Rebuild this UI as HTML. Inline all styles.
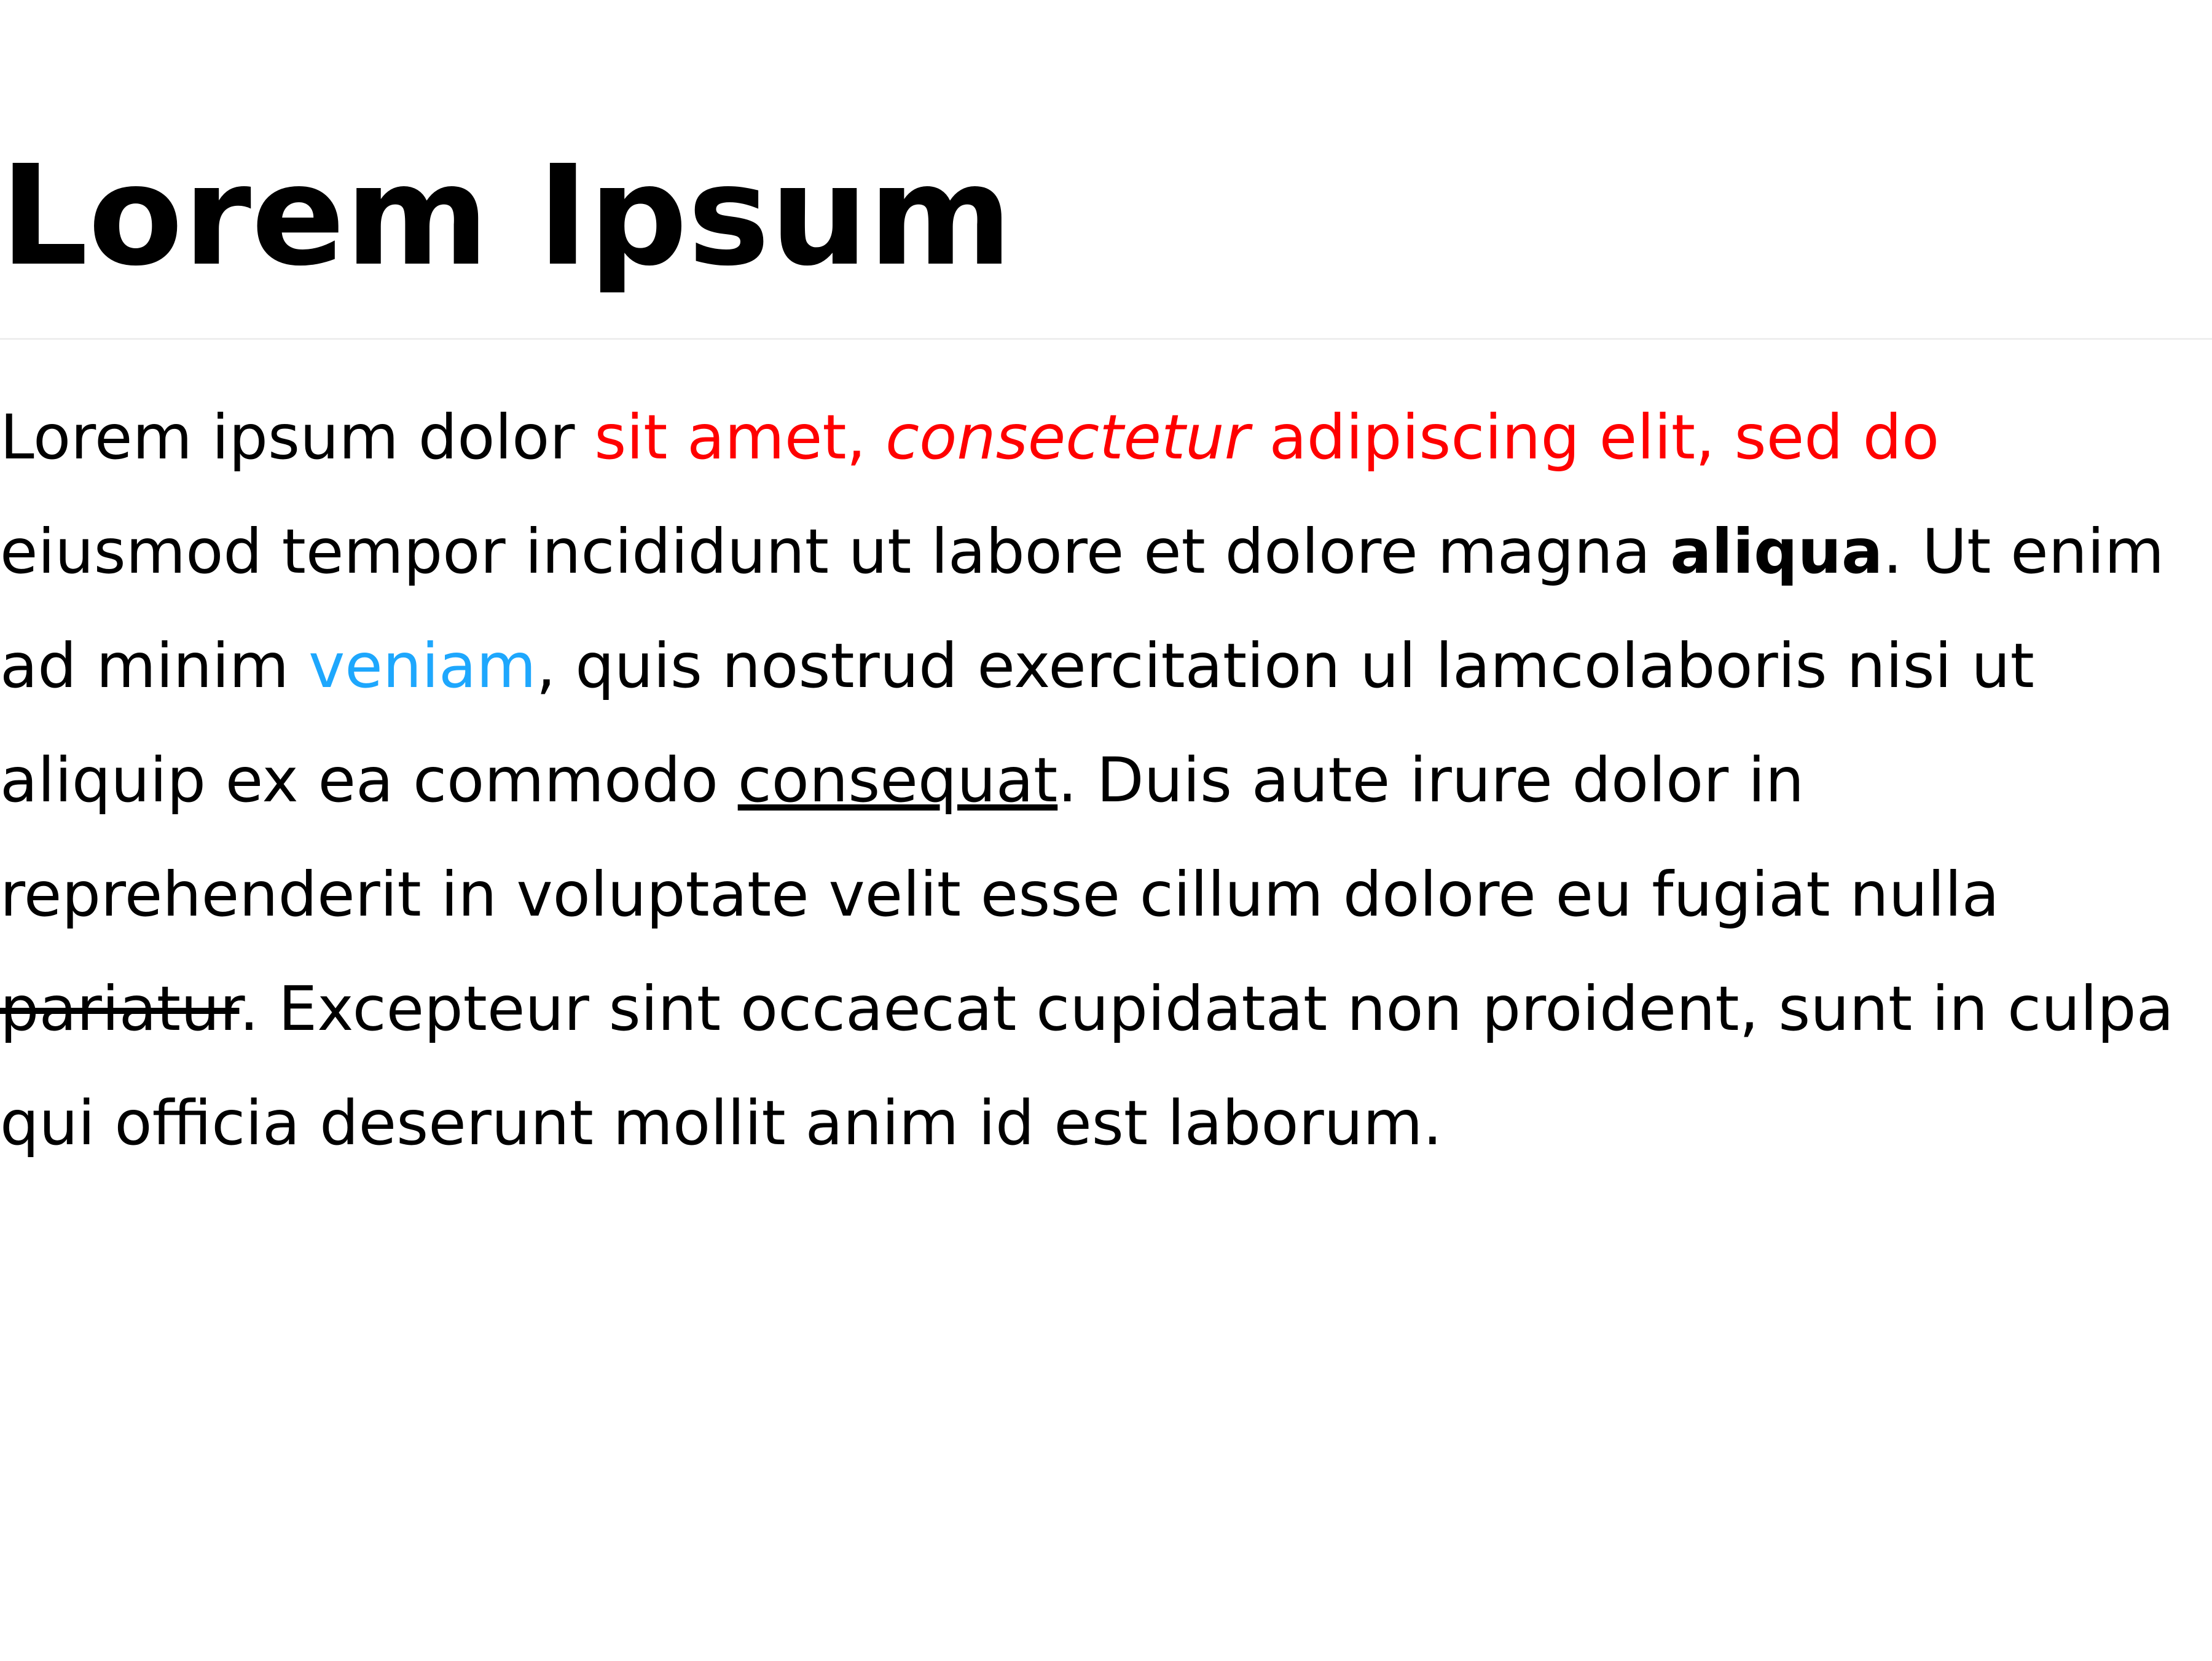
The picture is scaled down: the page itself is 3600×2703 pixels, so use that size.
<!DOCTYPE html>
<html><head><meta charset="utf-8"><style>
html,body{margin:0;padding:0;background:#fff;width:3600px;height:2703px;overflow:hidden}
body{font-family:"DejaVu Sans","Liberation Sans",sans-serif;color:#000;position:relative}
h1{position:absolute;left:0;top:240px;margin:0;font-size:225px;line-height:224px;font-weight:bold;white-space:nowrap}
.rule{position:absolute;left:0;top:550px;width:3600px;height:3px;background:#eee}
p{position:absolute;left:0;top:619px;margin:0;font-size:100px;line-height:186px;white-space:nowrap}
.r{color:#f00}.b{color:#1ea7fd}
</style></head><body>
<h1>Lorem Ipsum</h1>
<div class="rule"></div>
<p>Lorem ipsum dolor <span class="r">sit amet, <i>consectetur</i> adipiscing elit, sed do</span><br>
eiusmod tempor incididunt ut labore et dolore magna <b>aliqua</b>. Ut enim<br>
ad minim <span class="b">veniam</span>, quis nostrud exercitation ul lamcolaboris nisi ut<br>
aliquip ex ea commodo <u>consequat</u>. Duis aute irure dolor in<br>
reprehenderit in voluptate velit esse cillum dolore eu fugiat nulla<br>
<s>pariatur</s>. Excepteur sint occaecat cupidatat non proident, sunt in culpa<br>
qui officia deserunt mollit anim id est laborum.</p>
</body></html>
